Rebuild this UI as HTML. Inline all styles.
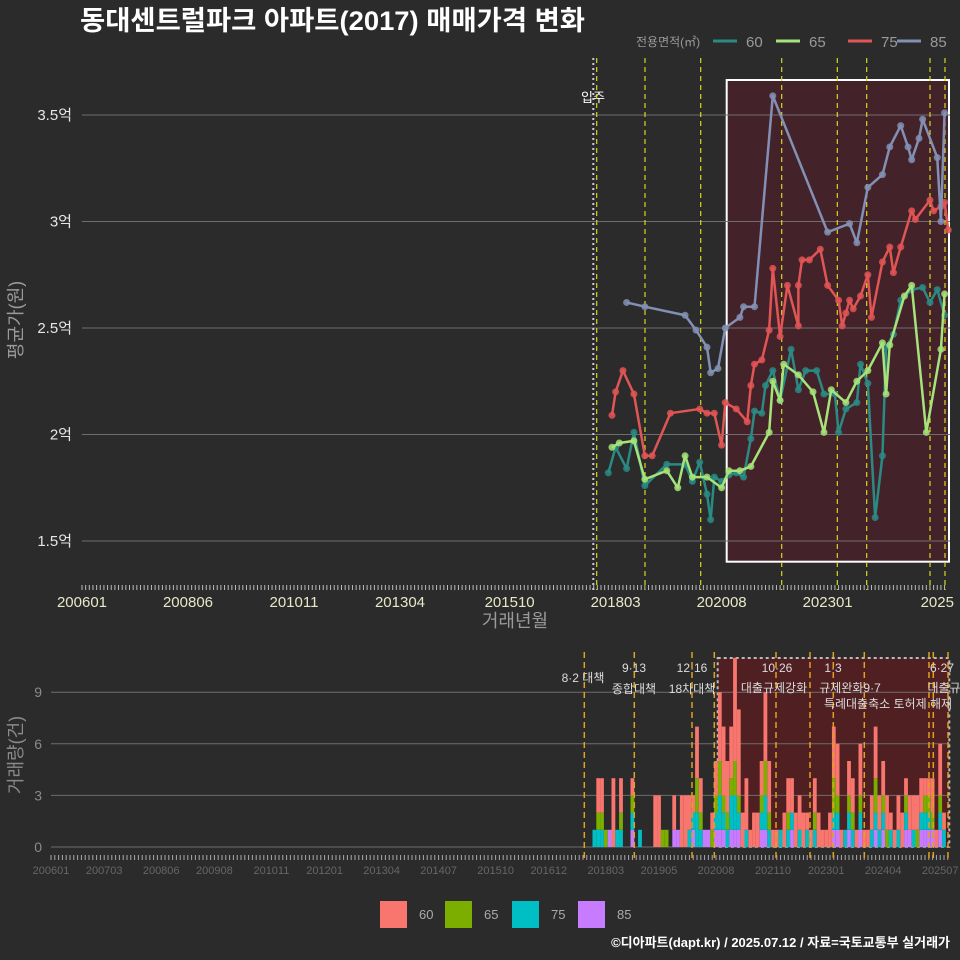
<!DOCTYPE html>
<html><head><meta charset="utf-8">
<style>
html,body{margin:0;padding:0;background:#2b2b2b;}
svg{display:block;font-family:"Liberation Sans","Noto Sans CJK KR",sans-serif;}
</style></head>
<body>
<svg id="chart" width="960" height="960" viewBox="0 0 960 960" xmlns="http://www.w3.org/2000/svg">
<rect width="960" height="960" fill="#2b2b2b"/>
<text x="80" y="30" fill="#ffffff" font-size="27" font-weight="bold" textLength="505" lengthAdjust="spacingAndGlyphs">동대센트럴파크 아파트(2017) 매매가격 변화</text>
<g id="legendTop">
<text x="636" y="46" fill="#9a9a9a" font-size="12">전용면적(㎡)</text>
</g>
<g id="topPanel"></g>
<g id="bottomPanel"></g>
<g id="legendBottom"></g>
<text x="950" y="947" text-anchor="end" fill="#ffffff" font-size="13" font-weight="bold">©디아파트(dapt.kr) / 2025.07.12 / 자료=국토교통부 실거래가</text>
</svg>
<script>
// ---- data: price series (month index from 200601, value in 억) ----
const m60=[144,146,149,151,154,160,165,167,169,171,172,173,175,177,179,181,183,184,186,187,189,191,194,196,198,201,203,206,207,209,212,213,215,217,219,220,222,224,227,230,232,234,236];
const v60=[1.82,1.94,1.84,2.01,1.76,1.86,1.86,1.78,1.87,1.72,1.60,1.80,1.78,1.81,1.82,1.80,1.98,2.11,2.10,2.23,2.30,2.16,2.40,2.21,2.30,2.30,2.19,2.19,2.01,2.12,2.15,2.33,2.24,1.61,1.90,2.41,2.47,2.63,2.68,2.69,2.62,2.68,2.56];
const m65=[145,147,151,154,160,163,165,167,171,175,177,180,183,188,189,191,192,196,200,203,205,209,212,215,219,220,221,225,227,231,235,236];
const v65=[1.94,1.96,1.97,1.79,1.83,1.75,1.90,1.80,1.80,1.75,1.83,1.83,1.85,2.01,2.25,2.16,2.33,2.28,2.20,2.01,2.21,2.15,2.25,2.30,2.43,2.19,2.42,2.65,2.70,2.01,2.40,2.66];
const m75=[145,146,148,151,154,156,161,169,171,173,175,176,179,182,183,184,186,188,189,191,193,196,196,197,199,202,204,207,208,209,210,211,213,215,216,219,221,222,224,227,228,232,233,235,236,237];
const v75=[2.09,2.20,2.30,2.19,1.90,1.90,2.10,2.12,2.10,2.10,1.95,2.15,2.12,2.06,2.23,2.33,2.35,2.49,2.78,2.46,2.70,2.51,2.70,2.82,2.82,2.87,2.70,2.63,2.51,2.57,2.63,2.59,2.65,2.75,2.55,2.81,2.88,2.76,2.88,3.05,3.01,3.10,3.05,3.07,3.09,2.96];
const m85=[149,154,165,168,171,172,174,176,180,181,184,189,204,210,212,215,219,221,224,226,227,229,230,234,235,236];
const v85=[2.62,2.60,2.56,2.49,2.41,2.29,2.31,2.50,2.55,2.60,2.60,3.59,2.95,2.99,2.90,3.16,3.22,3.35,3.45,3.35,3.29,3.39,3.48,3.30,3.00,3.51];
const yTicks=[1.5,2,2.5,3,3.5];
const yTickLabels=["1.5억","2억","2.5억","3억","3.5억"];
const xTickMonths=[0,29,58,87,117,146,175,204,234];
const xTickLabels=["200601","200806","201011","201304","201510","201803","202008","202301","2025"];
const topEvents=[596.7,645,700.7,781.7,837.3,866.7,930,945];
// ---- data: volume (months from 143, counts by area) ----
const volStart=143;
const c60=[0,2,2,0,0,4,0,2,0,0,1,0,0,0,0,0,3,3,0,0,0,2,0,3,3,2,1,3,2,0,0,1,2,4,4,3,3,6,5,2,3,1,2,2,2,4,3,1,1,0,2,2,2,2,2,2,1,1,2,2,1,1,2,3,3,1,0,2,2,1,3,1,1,2,3,2,2,2,1,1,2,2,1,2,2,2,2,1,1,2,1,3,1];
const c65=[0,1,1,1,0,0,0,1,0,0,1,0,0,0,0,0,0,0,1,1,0,0,0,0,0,0,0,2,1,0,0,1,1,2,1,1,1,2,1,0,0,0,0,0,1,2,1,0,0,0,0,1,0,0,0,0,0,0,1,0,0,0,0,2,1,0,0,1,1,0,1,0,0,0,2,0,1,1,0,0,0,0,1,0,0,1,0,1,1,1,0,1,0];
const c75=[1,1,1,0,0,0,1,1,0,0,1,0,1,0,0,0,0,0,0,0,0,0,0,0,0,1,1,2,1,0,0,0,1,2,1,1,2,2,1,0,1,0,0,0,1,2,1,0,0,1,0,1,1,0,1,0,1,0,1,0,0,0,0,1,1,0,1,1,1,0,1,0,0,1,1,1,1,0,1,0,1,0,1,0,1,0,1,1,1,0,0,1,1];
const c85=[0,0,0,0,1,0,0,0,0,0,1,0,0,0,0,0,0,0,0,0,0,1,1,0,0,0,1,0,0,1,1,0,1,1,1,0,1,1,1,0,0,0,0,0,1,1,0,0,0,0,0,0,1,0,0,0,0,0,0,0,0,0,0,1,1,0,0,1,0,0,1,0,0,0,1,0,1,0,0,0,0,0,1,1,0,0,1,1,1,1,0,1,0];
const vTicks=[0,3,6,9];
const bxTickMonths=[0,14,29,43,58,72,87,102,117,131,146,160,175,190,204,219,234];
const bxTickLabels=["200601","200703","200806","200908","201011","201201","201304","201407","201510","201612","201803","201905","202008","202110","202301","202404","202507"];
const botEvents=[584.3,634.3,692,714.3,776,810,833.3,864.3,929,933.3,948];

const NS="http://www.w3.org/2000/svg";
function mk(tag,attrs,parent){const e=document.createElementNS(NS,tag);for(const k in attrs)e.setAttribute(k,attrs[k]);parent.appendChild(e);return e;}
const tp=document.getElementById('topPanel'),bot=document.getElementById('bottomPanel');
const X=m=>82+m*3.655, Y=v=>541-(v-1.5)*213;
const BX=m=>51+m*3.8, BY=c=>847-c*17.2;

// top panel
let r=mk('rect',{x:726.7,y:80,width:222.3,height:481.7,fill:'#44222a',stroke:'#ffffff','stroke-width':2},tp);


yTicks.forEach((t,i)=>{
 let l=mk('line',{x1:82,x2:950,y1:Y(t),y2:Y(t),stroke:'#6e6e6e','stroke-width':1},tp);
 
 
 let tx=mk('text',{x:72,y:Y(t)+5,'text-anchor':'end',fill:'#e6e6e6','font-size':15},tp);
 tx.textContent=yTickLabels[i];
 
 
});
for(let m=0;m<=236;m++){
 let t=mk('line',{x1:X(m),x2:X(m),y1:585,y2:590,stroke:'#bbbbbb','stroke-width':1},tp);
 
 
}
xTickMonths.forEach((m,i)=>{
 let tx=mk('text',{x:X(m),y:607,'text-anchor':'middle',fill:'#e8e8c8','font-size':15},tp);
 tx.textContent=xTickLabels[i];
 
 
});
let ax=mk('text',{x:515,y:627,'text-anchor':'middle',fill:'#9a9a9a','font-size':18},tp);
ax.textContent='거래년월';


let ay=mk('text',{x:0,y:0,'text-anchor':'middle',fill:'#9a9a9a','font-size':18,transform:'translate(22,320) rotate(-90)'},tp);
ay.textContent='평균가(원)';


let mv=mk('line',{x1:593.3,x2:593.3,y1:58,y2:590,stroke:'#cccccc','stroke-width':2,'stroke-dasharray':'2,3'},tp);


let mvt=mk('text',{x:593,y:102,'text-anchor':'middle',fill:'#ffffff','font-size':13},tp);
mvt.textContent='입주';


topEvents.forEach(x=>{
 let l=mk('line',{x1:x,x2:x,y1:58,y2:590,stroke:'#d8d820','stroke-width':1.2,'stroke-dasharray':'5,4'},tp);
 
 
});
const series=[[m60,v60,'#2a8a84','60'],[m65,v65,'#a6e37a','65'],[m75,v75,'#e25555','75'],[m85,v85,'#8290b4','85']];
series.forEach(([ms,vs,col,nm])=>{
 let g=mk('g',{},tp);
 
 
 let p=mk('polyline',{points:ms.map((m,i)=>X(m)+','+Y(vs[i])).join(' '),fill:'none',stroke:col,'stroke-width':2.5,'stroke-linejoin':'round'},g);
 
 
 ms.forEach((m,i)=>{
  let c=mk('circle',{cx:X(m),cy:Y(vs[i]),r:3.5,fill:col,opacity:0.85},g);
  
  
 });
});
// top legend
const lg=document.getElementById('legendTop');
[['60','#2a8a84',713],['65','#a6e37a',776],['75','#e25555',848],['85','#8290b4',897]].forEach(([n,c,x])=>{
 let l=mk('line',{x1:x,x2:x+24,y1:41,y2:41,stroke:c,'stroke-width':3},lg);
 
 
 let t=mk('text',{x:x+33,y:47,fill:'#9a9a9a','font-size':15},lg);
 t.textContent=n;
 
 
});

// bottom panel
let br=mk('rect',{x:717.7,y:658,width:231.6,height:189,fill:'#4f1f22',stroke:'#bbbbbb','stroke-width':2,'stroke-dasharray':'3,3'},bot);


vTicks.forEach(t=>{
 let l=mk('line',{x1:51,x2:950,y1:BY(t),y2:BY(t),stroke:'#6e6e6e','stroke-width':1},bot);
 
 
 let tx=mk('text',{x:42,y:BY(t)+5,'text-anchor':'end',fill:'#8a8a8a','font-size':14},bot);
 tx.textContent=t;
 
 
});
let by=mk('text',{x:0,y:0,'text-anchor':'middle',fill:'#8a8a8a','font-size':18,transform:'translate(22,755) rotate(-90)'},bot);
by.textContent='거래량(건)';


const cols=['#f8766d','#7cae00','#00bfc4','#c77cff'];
for(let i=0;i<c60.length;i++){
 const m=volStart+i;
 const parts=[c85[i]||0,c75[i]||0,c65[i]||0,c60[i]||0];
 const pc=[cols[3],cols[2],cols[1],cols[0]];
 let acc=0;
 parts.forEach((n,k)=>{
  if(!n) return;
  let b=mk('rect',{x:BX(m)-1.9,y:BY(acc+n),width:3.8,height:n*17.2,fill:pc[k]},bot);
  
  
  acc+=n;
 });
}
for(let m=0;m<=236;m++){
 let t=mk('line',{x1:BX(m),x2:BX(m),y1:855,y2:860,stroke:'#aaaaaa','stroke-width':1},bot);
 
 
}
bxTickMonths.forEach((m,i)=>{
 let tx=mk('text',{x:BX(m),y:874,'text-anchor':'middle',fill:'#666666','font-size':11},bot);
 tx.textContent=bxTickLabels[i];
 
 
});
botEvents.forEach(x=>{
 let l=mk('line',{x1:x,x2:x,y1:652,y2:858,stroke:'#e0a020','stroke-width':1.5,'stroke-dasharray':'6,4'},bot);
 
 
});
[['8·2 대책',583,682],['9·13',634,672],['종합대책',634,693],['12·16',692,672],['18차대책',692,693],['10·26',777,672],['대출규제강화',774,692],['1·3',833,672],['규제완화9·7',850,692],['특례대출축소 토허제 해제',888,708],['6·27',942,672],['대출규',944,692]].forEach(([s,x,y])=>{
 let t=mk('text',{x:x,y:y,'text-anchor':'middle',fill:'#dddddd','font-size':12},bot);
 t.textContent=s;
 
 
});
// bottom legend
const lb=document.getElementById('legendBottom');
[['60',cols[0],380],['65',cols[1],445],['75',cols[2],512],['85',cols[3],578]].forEach(([n,c,x])=>{
 let s=mk('rect',{x:x,y:901,width:27,height:27,fill:c},lb);
 
 
 let t=mk('text',{x:x+39,y:919,fill:'#aaaaaa','font-size':13},lb);
 t.textContent=n;
 
 
});
</script>
</body></html>
